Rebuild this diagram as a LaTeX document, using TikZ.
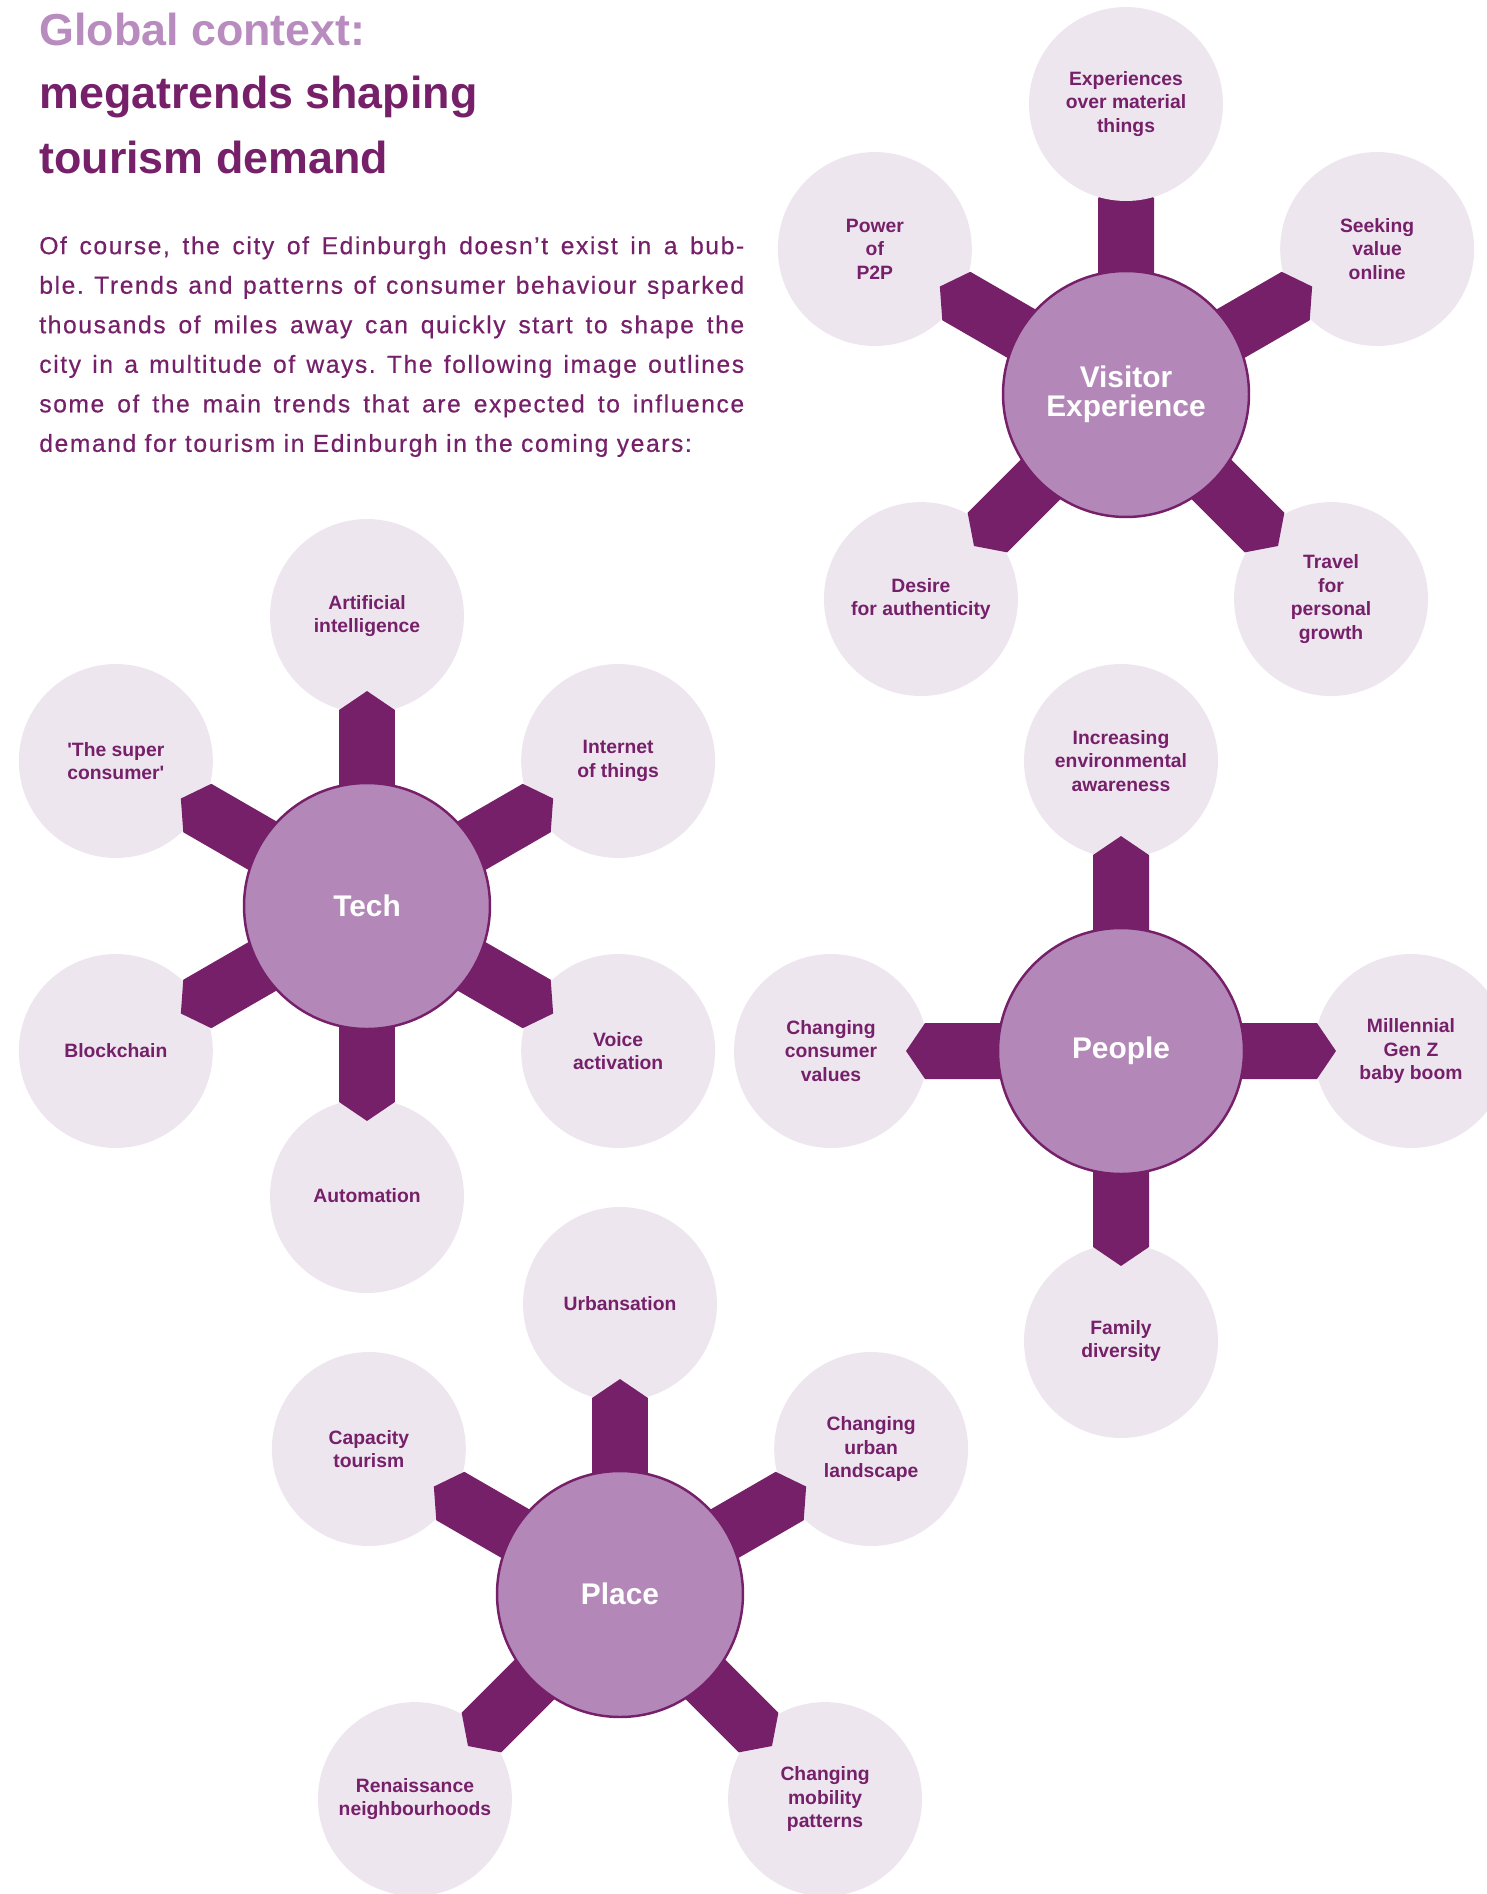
\documentclass[tikz,border=0pt]{standalone}
\usepackage{fontspec}
\setmainfont{Liberation Sans}
\newfontfamily\bodyfont{Liberation Sans}[LetterSpace=6.5, FakeBold=0.5]
\usetikzlibrary{calc}

\definecolor{plum}{HTML}{76206A}
\definecolor{lilac}{HTML}{B388B8}
\definecolor{heather}{HTML}{B98CC0}
\definecolor{mist}{HTML}{EEE6EF}

\pgfdeclarelayer{under}
\pgfdeclarelayer{top}
\pgfsetlayers{under,main,top}

% bar from a hub to one of its outer circles, with a blunt pointed end
\newcommand{\spoke}[2]{%
  \fill[spoke] ($(#1)!0.56cm!90:(#2)$) -- ($(#1)!3.96cm!8.13:(#2)$)
    -- ($(#1)!4.3cm!(#2)$) -- ($(#1)!3.96cm!-8.13:(#2)$)
    -- ($(#1)!0.56cm!-90:(#2)$) -- cycle;}

\begin{document}
\begin{tikzpicture}[
    x=0.02cm, y=0.02cm,
    % Style for the big centre circles
    hub/.style={circle, fill=lilac, draw=plum, line width=1.4pt,
        minimum size=4.92cm, inner sep=0pt, text=white, align=center,
        font=\fontsize{17}{16.5}\selectfont\bfseries},
    % Style for the pale outer circles
    leaf/.style={circle, fill=mist, minimum size=3.88cm, inner sep=0pt,
        text=plum, align=center, font=\fontsize{11}{13.4}\selectfont\bfseries},
    spoke/.style={fill=plum},
    heading/.style={anchor=base west, inner sep=0pt,
        font=\fontsize{25.5}{36}\selectfont\bfseries}
]

    \useasboundingbox (0,0) rectangle (1487,-1894);
    \clip (0,0) rectangle (1487,-1894);

    % --- 1. Heading and text ---
    \node[heading, text=heather] (title-a) at (39,-45) {Global context:};
    \node[heading, text=plum] (title-b) at (39,-108) {megatrends shaping};
    \node[heading, text=plum] (title-c) at (39,-173) {tourism demand};

    \node[anchor=north west, inner sep=0pt, text width=14.1cm, align=justify,
        text=plum, font=\bodyfont\fontsize{14}{22.5}\selectfont]
        (intro) at (39,-236)
        {\tolerance=10000 \frenchspacing
         Of course, the city of Edinburgh doesn’t exist in a bub-\linebreak
         ble. Trends and patterns of consumer behaviour sparked\linebreak
         thousands of miles away can quickly start to shape the\linebreak
         city in a multitude of ways. The following image outlines\linebreak
         some of the main trends that are expected to influence\linebreak
         demand for tourism in Edinburgh in the coming years:};

    % --- 2. Hubs (kept on top) ---
    \begin{pgfonlayer}{top}
    \node[hub] (vis) at (1126,-394) {Visitor\\Experience};
    \node[hub] (tech) at (367,-906) {Tech};
    \node[hub] (ppl) at (1121,-1051) {People};
    \node[hub] (plc) at (620,-1594) {Place};
    \end{pgfonlayer}

    % --- 3. Outer circles ---
    % Visitor experience
    \node[leaf] (vis-a) at ($(vis)+(90:290)$) {Experiences\\over material\\things};
    \node[leaf] (vis-b) at ($(vis)+(30:290)$) {Seeking\\value\\online};
    \node[leaf] (vis-c) at ($(vis)+(150:290)$) {Power\\of\\P2P};
    \node[leaf] (vis-d) at ($(vis)+(225:290)$) {Desire\\for authenticity};
    \node[leaf] (vis-e) at ($(vis)+(315:290)$) {Travel\\for\\personal\\growth};

    % Tech
    \node[leaf] (tech-a) at ($(tech)+(90:290)$) {Artificial\\intelligence};
    \node[leaf] (tech-b) at ($(tech)+(30:290)$) {Internet\\of things};
    \node[leaf] (tech-c) at ($(tech)+(150:290)$) {\textquotesingle The super\\consumer\textquotesingle};
    \node[leaf] (tech-d) at ($(tech)+(210:290)$) {Blockchain};
    \node[leaf] (tech-e) at ($(tech)+(330:290)$) {Voice\\activation};
    \node[leaf] (tech-f) at ($(tech)+(270:290)$) {Automation};

    % People
    \node[leaf] (ppl-a) at ($(ppl)+(90:290)$) {Increasing\\environmental\\awareness};
    \node[leaf] (ppl-b) at ($(ppl)+(180:290)$) {Changing\\consumer\\values};
    \node[leaf] (ppl-c) at ($(ppl)+(0:290)$) {Millennial\\Gen Z\\baby boom};
    \node[leaf] (ppl-d) at ($(ppl)+(270:290)$) {Family\\diversity};

    % Place
    \node[leaf] (plc-a) at ($(plc)+(90:290)$) {Urbansation};
    \node[leaf] (plc-b) at ($(plc)+(30:290)$) {Changing\\urban\\landscape};
    \node[leaf] (plc-c) at ($(plc)+(150:290)$) {Capacity\\tourism};
    \node[leaf] (plc-d) at ($(plc)+(225:290)$) {Renaissance\\neighbourhoods};
    \node[leaf] (plc-e) at ($(plc)+(315:290)$) {Changing\\mobility\\patterns};

    % --- 4. Spokes ---
    % this one runs under its circle
    \begin{pgfonlayer}{under}
    \spoke{vis}{vis-a}
    \end{pgfonlayer}

    \foreach \s in {b,c,d,e} {\spoke{vis}{vis-\s}}
    \foreach \s in {a,b,c,d,e,f} {\spoke{tech}{tech-\s}}
    \foreach \s in {a,b,c,d} {\spoke{ppl}{ppl-\s}}
    \foreach \s in {a,b,c,d,e} {\spoke{plc}{plc-\s}}

\end{tikzpicture}
\end{document}
